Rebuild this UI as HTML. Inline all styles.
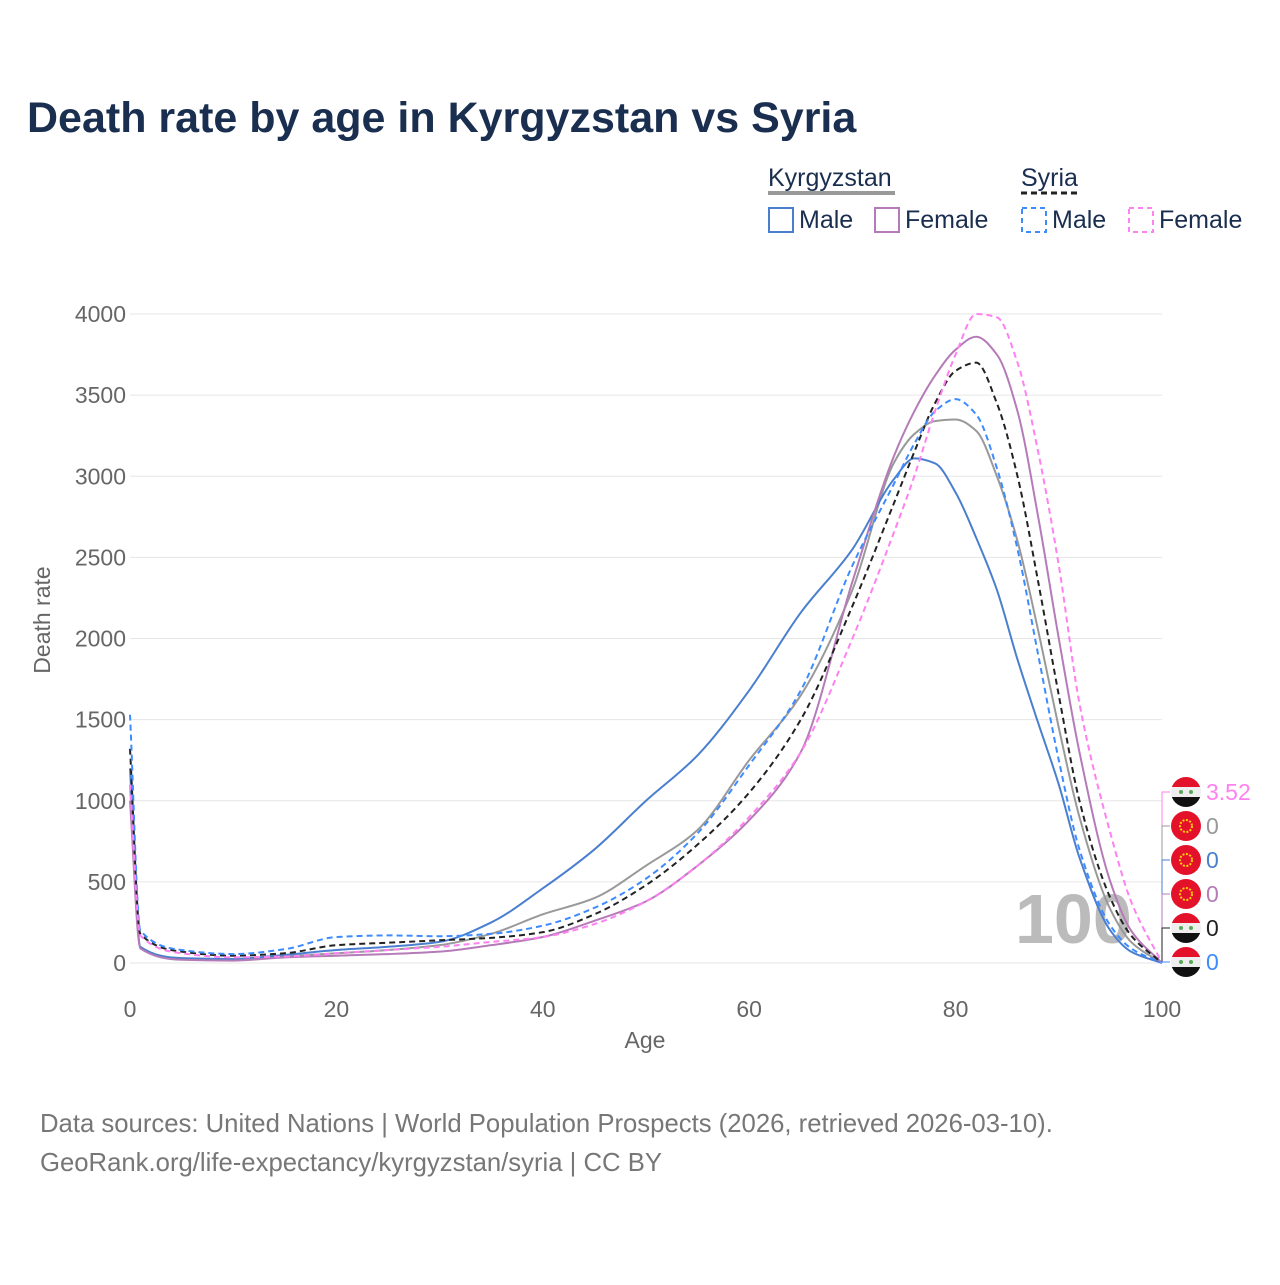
<!DOCTYPE html>
<html><head><meta charset="utf-8"><style>
body{margin:0;background:#fff;font-family:"Liberation Sans",sans-serif;}
svg text{font-family:"Liberation Sans",sans-serif;}
</style></head><body>
<svg id="c" width="1280" height="1280" viewBox="0 0 1280 1280" xmlns="http://www.w3.org/2000/svg">
<text x="27" y="132" font-size="43" font-weight="bold" fill="#1a2e4f">Death rate by age in Kyrgyzstan vs Syria</text>
<g font-size="25" fill="#1a2e4f">
<text x="768" y="186" fill="#1a2e4f">Kyrgyzstan</text>
<line x1="768" y1="193" x2="895" y2="193" stroke="#999" stroke-width="4"/>
<text x="1021" y="186" fill="#1a2e4f">Syria</text>
<line x1="1021" y1="193" x2="1078" y2="193" stroke="#222" stroke-width="3" stroke-dasharray="6,4"/>
<rect x="769" y="208" width="24" height="24" fill="none" stroke="#4a7fcf" stroke-width="2"/>
<text x="799" y="228" fill="#1a2e4f">Male</text>
<rect x="875" y="208" width="24" height="24" fill="none" stroke="#b57bb8" stroke-width="2"/>
<text x="905" y="228" fill="#1a2e4f">Female</text>
<rect x="1022" y="208" width="24" height="24" fill="none" stroke="#3d8bff" stroke-width="2" stroke-dasharray="5,4"/>
<text x="1052" y="228" fill="#1a2e4f">Male</text>
<rect x="1129" y="208" width="24" height="24" fill="none" stroke="#ff80f0" stroke-width="2" stroke-dasharray="5,4"/>
<text x="1159" y="228" fill="#1a2e4f">Female</text>
</g>
<g id="grid"></g>
<g id="axes" font-size="23" fill="#666"></g>
<text x="1015" y="943" font-size="70" font-weight="bold" fill="#bbb">100</text>
<g id="series" fill="none"></g>
<g id="endlabels"></g>
<text x="645" y="1048" font-size="23" fill="#666" text-anchor="middle">Age</text>
<text transform="translate(50,620) rotate(-90)" font-size="23" fill="#666" text-anchor="middle">Death rate</text>
<text x="40" y="1132" font-size="25.7" fill="#777">Data sources: United Nations | World Population Prospects (2026, retrieved 2026-03-10).</text>
<text x="40" y="1171" font-size="25.7" fill="#777">GeoRank.org/life-expectancy/kyrgyzstan/syria | CC BY</text>
</svg>
<script>
const ages=[0,1,5,10,15,20,25,30,35,40,45,50,55,60,65,70,74,76,78,80,82,84,86,88,90,92,95,97,100];
const kgMale=[1200,100,30,25,50,80,100,130,250,460,700,1000,1280,1680,2160,2550,2980,3110,3080,2900,2620,2300,1870,1480,1100,650,200,70,0];
const kgTotal=[1100,95,25,20,40,60,80,110,180,300,400,600,820,1250,1650,2300,3080,3260,3340,3350,3280,3000,2600,2050,1450,900,330,130,0];
const kgFemale=[1000,90,20,15,35,45,55,70,110,160,260,380,600,880,1300,2350,3120,3400,3620,3780,3860,3750,3400,2750,2000,1300,500,200,0];
const syTotal=[1320,180,70,45,60,110,125,140,155,190,300,480,730,1050,1500,2200,2830,3150,3450,3650,3700,3450,3000,2350,1650,1000,400,170,0];
const syMale=[1530,200,80,55,85,160,170,165,180,230,340,520,800,1220,1680,2450,2950,3200,3400,3475,3380,3050,2550,1900,1250,700,230,90,0];
const syFemale=[1100,170,60,35,40,60,80,100,130,160,240,380,600,900,1300,2000,2650,3000,3400,3750,4000,3980,3700,3150,2450,1600,800,380,0];
const xTicks=[0,20,40,60,80,100];
const yTicks=[0,500,1000,1500,2000,2500,3000,3500,4000];
const endValues=["3.52","0","0","0","0","0"];
const NS="http://www.w3.org/2000/svg";
const X=a=>130+a*(1162-130)/100;
const Y=v=>963-v*(963-314)/4000;
function mk(t,at,p){const e=document.createElementNS(NS,t);for(const k in at)e.setAttribute(k,at[k]);p.appendChild(e);return e;}
const grid=document.getElementById('grid'),axes=document.getElementById('axes');
yTicks.forEach(v=>{
 const l=mk('line',{x1:130,x2:1162,y1:Y(v),y2:Y(v),stroke:'#e6e6e6','stroke-width':1},grid);
 
 
 const t=mk('text',{x:126,y:Y(v)+8,'text-anchor':'end'},axes);t.textContent=v;
 
 
});
xTicks.forEach(a=>{
 const t=mk('text',{x:X(a),y:1017,'text-anchor':'middle'},axes);t.textContent=a;
 
 
});
function path(vals){
 const xs=ages.map(X),ys=vals.map(Y),n=xs.length;
 const d=[],m=new Array(n);
 for(let i=0;i<n-1;i++)d.push((ys[i+1]-ys[i])/(xs[i+1]-xs[i]));
 m[0]=d[0];m[n-1]=d[n-2];
 for(let i=1;i<n-1;i++){
  if(d[i-1]*d[i]<=0)m[i]=0;
  else{const h0=xs[i]-xs[i-1],h1=xs[i+1]-xs[i],w1=2*h1+h0,w2=h1+2*h0;m[i]=(w1+w2)/(w1/d[i-1]+w2/d[i]);}
 }
 let s='M'+xs[0]+','+ys[0];
 for(let i=0;i<n-1;i++){
  const h=(xs[i+1]-xs[i])/3;
  s+=' C'+(xs[i]+h)+','+(ys[i]+m[i]*h)+' '+(xs[i+1]-h)+','+(ys[i+1]-m[i+1]*h)+' '+xs[i+1]+','+ys[i+1];
 }
 return s;
}
const ser=document.getElementById('series');
[[kgTotal,'#999','', 'kyrgyzstan-total-line'],[kgMale,'#4a7fcf','','kyrgyzstan-male-line'],[kgFemale,'#b57bb8','','kyrgyzstan-female-line'],
 [syTotal,'#222','6,4','syria-total-line'],[syMale,'#3d8bff','6,4','syria-male-line'],[syFemale,'#ff80f0','6,4','syria-female-line']].forEach(s=>{
 const e=mk('path',{d:path(s[0]),stroke:s[1],'stroke-width':2,'stroke-dasharray':s[2]||'none'},ser);
 
 
});
const el=document.getElementById('endlabels');
const lab=[['#ff80f0','sy'],['#999','kg'],['#4a7fcf','kg'],['#b57bb8','kg'],['#222','sy'],['#3d8bff','sy']];
lab.forEach((L,i)=>{
 const y=792+i*34;
 mk('path',{d:`M1162,963 L1162,${y} L1170,${y}`,stroke:L[0],fill:'none','stroke-width':1},el);
 const g=mk('g',{},el);
 
 
 if(L[1]==='sy'){
  mk('clipPath',{id:'cp'+i},g);mk('circle',{cx:1186,cy:y,r:15},g.lastChild);
  const cg=mk('g',{'clip-path':`url(#cp${i})`},g);
  mk('rect',{x:1171,y:y-15,width:30,height:10,fill:'#e4112b'},cg);
  mk('rect',{x:1171,y:y-5,width:30,height:10,fill:'#eee'},cg);
  mk('rect',{x:1171,y:y+5,width:30,height:10,fill:'#111'},cg);
  mk('circle',{cx:1181,cy:y,r:2,fill:'#5a5'},cg);mk('circle',{cx:1191,cy:y,r:2,fill:'#5a5'},cg);
 }else{
  mk('circle',{cx:1186,cy:y,r:15,fill:'#e4112b'},g);
  mk('circle',{cx:1186,cy:y,r:6,fill:'none',stroke:'#ffd200','stroke-width':2,'stroke-dasharray':'2,1.5'},g);
 }
 const t=mk('text',{x:1206,y:y+8,'font-size':23,fill:L[0]},el);t.textContent=endValues[i];
 
 
});
</script>
</body></html>
